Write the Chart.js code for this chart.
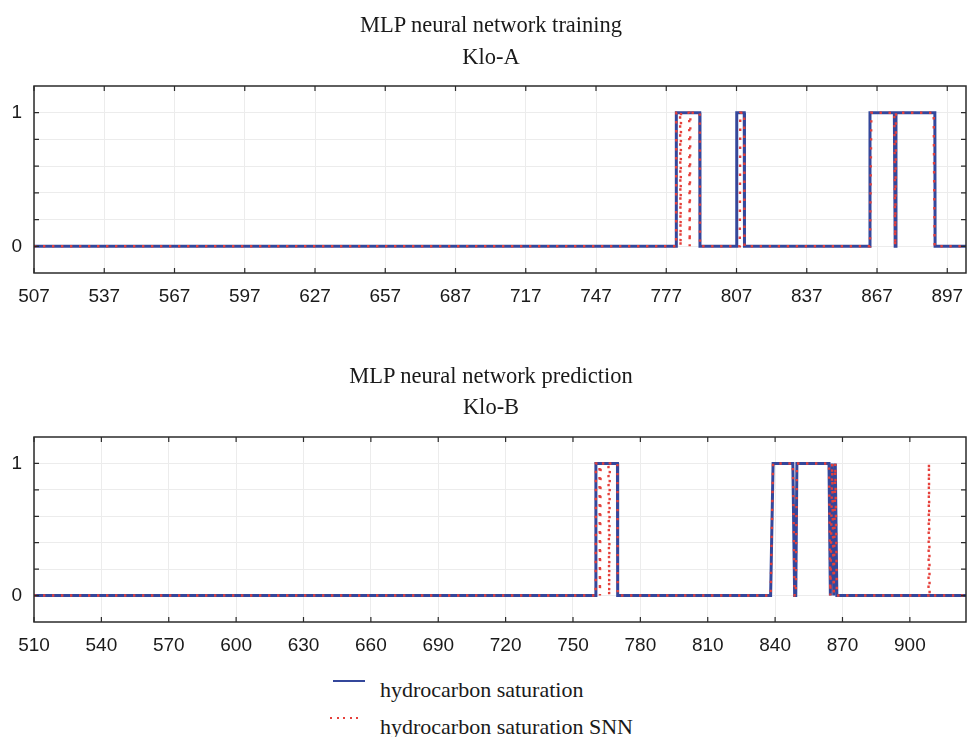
<!DOCTYPE html>
<html>
<head>
<meta charset="utf-8">
<script src="https://cdn.jsdelivr.net/npm/chart.js@4.4.1/dist/chart.umd.min.js"></script>
<style>
  html, body { margin:0; padding:0; background:#fff; }
  body { width:967px; height:737px; overflow:hidden; position:relative; }
  canvas { position:absolute; left:0; }
  .t { position:absolute; left:0; width:982px; text-align:center;
       font-family:'Liberation Serif','Times New Roman',serif; font-size:22.5px;
       color:#1a1a1a; line-height:22px; white-space:nowrap; }
  .lg { position:absolute; left:380px; font-family:'Liberation Serif','Times New Roman',serif;
        font-size:22px; color:#1a1a1a; line-height:22px; white-space:nowrap; }
  .ls { position:absolute; width:32px; height:2px; }
</style>
</head>
<body>
<canvas id="c1" width="967" height="320" style="top:0px"></canvas>
<canvas id="c2" width="967" height="320" style="top:350px"></canvas>

<div class="t" style="top:14px">MLP neural network training</div>
<div class="t" style="top:46px">Klo-A</div>
<div class="t" style="top:365px">MLP neural network prediction</div>
<div class="t" style="top:396px">Klo-B</div>

<div class="ls" style="left:333px; top:680px; background:#34479b;"></div>
<div class="lg" style="top:679px">hydrocarbon saturation</div>
<div class="ls" style="left:330px; top:717px; background:repeating-linear-gradient(90deg,#e5403b 0 2px,transparent 2px 6.5px);"></div>
<div class="lg" style="top:716px">hydrocarbon saturation SNN</div>

<script>
// ---- Klo-A (training) : breakpoints of the step series ----
const topBlueX = [507, 781.2, 781.3, 791.3, 791.4, 807.0, 807.1, 810.3, 810.4, 863.9, 864.0, 874.4, 874.75, 875.1, 891.7, 891.8, 905];
const topBlueY = [0, 0, 1, 1, 0, 0, 1, 1, 0, 0, 1, 1, 0, 1, 1, 0, 0];
const topRedX  = [507, 781.2, 781.3, 782.9, 783.1, 783.3, 786.8, 787.0, 787.3, 791.3, 791.4, 808.4, 808.6, 810.3, 810.4, 864.0, 864.6, 874.4, 874.75, 875.1, 891.2, 891.6, 905];
const topRedY  = [0, 0, 1, 1, 0, 1, 1, 0, 1, 1, 0, 0, 1, 1, 0, 0, 1, 1, 0, 1, 1, 0, 0];
const topXTicks = [507, 537, 567, 597, 627, 657, 687, 717, 747, 777, 807, 837, 867, 897];

// ---- Klo-B (prediction) ----
const botBlueX = [510, 760.1, 760.2, 769.8, 769.9, 838.0, 839.1, 847.9, 848.7, 849.2, 849.7, 864.0, 864.6, 865.4, 866.1, 866.8, 867.5, 925];
const botBlueY = [0, 0, 1, 1, 0, 0, 1, 1, 0, 0, 1, 1, 0, 1, 0, 1, 0, 0];
const botRedX  = [510, 760.1, 760.2, 761.8, 762.0, 762.3, 765.8, 766.1, 766.4, 769.8, 769.9, 838.0, 839.1, 847.9, 848.7, 849.2, 849.7, 864.0, 864.6, 865.4, 866.1, 866.8, 867.5, 908.3, 908.5, 908.8, 925];
const botRedY  = [0, 0, 1, 1, 0, 1, 1, 0, 1, 1, 0, 0, 1, 1, 0, 0, 1, 1, 0, 1, 0, 1, 0, 0, 1, 0, 0];
const botXTicks = [510, 540, 570, 600, 630, 660, 690, 720, 750, 780, 810, 840, 870, 900];

const yTickValues = [0, 0.2, 0.4, 0.6, 0.8, 1];
const yLabelled = [0, 1];

const seriesNames = ['hydrocarbon saturation', 'hydrocarbon saturation SNN'];

function pts(xs, ys) { return xs.map((x, i) => ({ x: x, y: ys[i] })); }

const framePlugin = {
  id: 'frame',
  afterDraw(chart) {
    const ctx = chart.ctx, a = chart.chartArea;
    const xs = chart.scales.x, ys = chart.scales.y;
    ctx.save();
    ctx.strokeStyle = '#2b2b2b';
    ctx.lineWidth = 1.5;
    ctx.strokeRect(a.left, a.top, a.right - a.left, a.bottom - a.top);
    ctx.lineWidth = 1.2;
    ctx.beginPath();
    xs.ticks.forEach(t => {
      const p = xs.getPixelForValue(t.value);
      ctx.moveTo(p, a.bottom); ctx.lineTo(p, a.bottom - 5);
      ctx.moveTo(p, a.top); ctx.lineTo(p, a.top + 5);
    });
    ys.ticks.forEach(t => {
      const p = ys.getPixelForValue(t.value);
      ctx.moveTo(a.left, p); ctx.lineTo(a.left + 5, p);
      ctx.moveTo(a.right, p); ctx.lineTo(a.right - 5, p);
    });
    ctx.stroke();
    ctx.restore();
  }
};

function makeChart(id, blueX, blueY, redX, redY, xmin, xmax, xticks, topPad, xAxisH) {
  return new Chart(document.getElementById(id), {
    type: 'line',
    data: {
      datasets: [
        { label: seriesNames[1], data: pts(redX, redY), borderColor: '#e5403b', borderWidth: 2.4,
          borderDash: [2.4, 6.6], pointRadius: 0, fill: false, tension: 0, order: 0 },
        { label: seriesNames[0], data: pts(blueX, blueY), borderColor: '#34479b', borderWidth: 3,
          pointRadius: 0, fill: false, tension: 0, order: 1 }
      ]
    },
    options: {
      responsive: false,
      animation: false,
      events: [],
      layout: { padding: { top: topPad, right: 1, left: 0, bottom: 0 } },
      plugins: { legend: { display: false }, tooltip: { enabled: false }, title: { display: false } },
      scales: {
        x: {
          type: 'linear', min: xmin, max: xmax,
          afterBuildTicks: s => { s.ticks = xticks.map(v => ({ value: v })); },
          afterFit: s => { s.height = xAxisH; s.paddingLeft = 0; s.paddingRight = 0; },
          grid: { color: '#ececec', lineWidth: 1, drawTicks: false },
          border: { display: false },
          ticks: { autoSkip: false, maxRotation: 0, padding: 12, color: '#1a1a1a',
                   font: { family: "'Liberation Sans', Arial, sans-serif", size: 19 },
                   callback: v => String(v) }
        },
        y: {
          type: 'linear', min: -0.2, max: 1.2,
          afterBuildTicks: s => { s.ticks = yTickValues.map(v => ({ value: v })); },
          afterFit: s => { s.width = 34; s.paddingTop = 0; s.paddingBottom = 0; },
          grid: { color: '#ececec', lineWidth: 1, drawTicks: false },
          border: { display: false },
          ticks: { autoSkip: false, padding: 12, color: '#1a1a1a',
                   font: { family: "'Liberation Sans', Arial, sans-serif", size: 19 },
                   callback: v => (yLabelled.includes(v) ? String(v) : '') }
        }
      }
    },
    plugins: [framePlugin]
  });
}

makeChart('c1', topBlueX, topBlueY, topRedX, topRedY, 507, 905, topXTicks, 86, 47);
makeChart('c2', botBlueX, botBlueY, botRedX, botRedY, 510, 925, botXTicks, 87, 48);
</script>
</body>
</html>
